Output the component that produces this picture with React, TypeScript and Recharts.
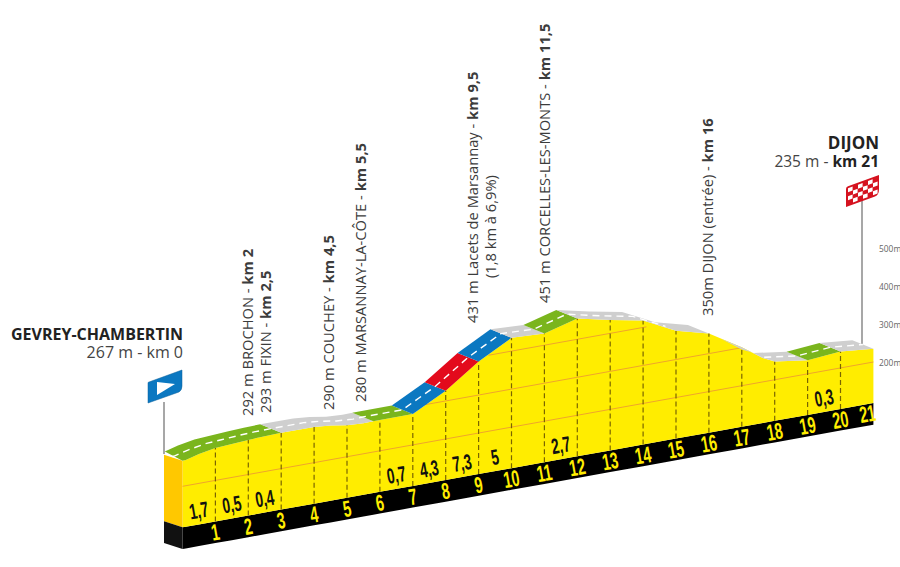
import React from "react";
import {
  ComposedChart,
  Area,
  Line,
  XAxis,
  YAxis,
  ReferenceLine,
  ReferenceDot,
} from "recharts";

// front edge of the road, km and altitude in metres
const profileKm = [0, 0.1, 0.5, 1, 1.5, 2, 2.5, 3, 4, 4.5, 5, 5.5, 5.8, 6, 7, 8, 9, 10, 11, 12, 13, 14, 15, 16, 17, 17.64, 18, 19, 20, 21];
const profileAlt = [267, 268, 277, 285, 288, 291, 293, 294, 294, 290, 283, 280, 281, 281, 281, 327, 388, 435, 431, 455, 435, 418, 376, 353, 301, 263, 248, 236, 243, 235];

const climbFrom = [0, 3, 5.8, 7, 8, 9, 10, 11, 12, 17, 19, 20];
const climbTo = [3, 5.8, 7, 8, 9, 10, 11, 12, 16, 19, 20, 21];
const climbColor = ["#7AB51D", "#CFCFCF", "#7AB51D", "#0B78C1", "#E30A1C", "#0B78C1", "#CFCFCF", "#7AB51D", "#CFCFCF", "#CFCFCF", "#7AB51D", "#CFCFCF"];

const contourLevels = [200, 300, 400];
const contourFrom = [0, 7.3, 9.3];
const contourTo = [21, 17, 14.1];

const kmMarks = [1, 2, 3, 4, 5, 6, 7, 8, 9, 10, 11, 12, 13, 14, 15, 16, 17, 18, 19, 20, 21];

const gradientKm = [0.5, 1.5, 2.5, 6.5, 7.5, 8.5, 9.5, 11.5, 19.5];
const gradientText = ["1,7", "0,5", "0,4", "0,7", "4,3", "7,3", "5", "2,7", "0,3"];

const passNames = [
  "292 m BROCHON",
  "293 m FIXIN",
  "290 m COUCHEY",
  "280 m MARSANNAY-LA-CÔTE",
  "431 m Lacets de Marsannay",
  "451 m CORCELLES-LES-MONTS",
  "350m DIJON (entrée)",
];
const passKm = ["km 2", "km 2,5", "km 4,5", "km 5,5", "km 9,5", "km 11,5", "km 16"];
const passX = [247, 265, 328, 360, 472, 544, 707];
const passBottom = [416, 413, 410, 402, 323, 303, 316];

const altTicks = [200, 300, 400, 500];

// the whole profile is drawn on a slope, altitude loses this many metres per km left of the finish
const TILT = 15.58;
const PX_PER_KM = 32.9;
const PX_PER_M = 0.38;
const kmAt = (px: number) => (px - 182.5) / PX_PER_KM;
const altAt = (py: number) => 200 + (362 - py) / PX_PER_M;
const tilted = (km: number, alt: number) => alt - TILT * (21 - km);

// road surface goes back and up from the front edge
const BACK_KM = 21 / PX_PER_KM;
const BACK_ALT = 8.5 / PX_PER_M;

const BASE_ALT = 92;
const BLACK_ALT = 35;

const FONT = "'Open Sans', sans-serif";

const bodyRows = profileKm.map((km, i) => ({
  km,
  band: [tilted(km, BLACK_ALT), tilted(km, BASE_ALT)],
  body: [tilted(km, BASE_ALT), tilted(km, profileAlt[i])],
}));

const altOf = (km: number) => profileAlt[profileKm.indexOf(km)];

const roadPolygon = (from: number, to: number) => {
  const kms = profileKm.filter((k) => k >= from && k <= to);
  const front = kms.map((km) => ({ km, y: tilted(km, altOf(km)) }));
  const back = kms
    .filter((km) => km !== 0)
    .reverse()
    .map((km) => ({ km: km - BACK_KM, y: tilted(km, altOf(km)) + BACK_ALT }));
  return [...front, ...back];
};

const centerRows = (from: number, to: number) =>
  profileKm
    .filter((k) => k >= from && k <= to)
    .map((km) => ({ km: km - BACK_KM / 2, y: tilted(km, altOf(km)) + BACK_ALT / 2 }));

const sideFace = [
  { km: 0, y: tilted(0, 267) },
  { km: 0, y: tilted(0, BASE_ALT) },
  { km: kmAt(164), y: tilted(0, BASE_ALT) + 16 },
  { km: kmAt(164), y: tilted(0, 267) + 16 },
];
const sideBlack = [
  { km: 0, y: tilted(0, BASE_ALT) },
  { km: 0, y: tilted(0, BLACK_ALT) },
  { km: kmAt(164), y: tilted(0, BLACK_ALT) + 16 },
  { km: kmAt(164), y: tilted(0, BASE_ALT) + 16 },
];

const joined = (points: any[]) => points.map((q: any) => `${q.x},${q.y}`).join(" ");

// Line series whose points are the corners of a filled shape
const polygonDot = (fill: string) => (p: any) =>
  p.index === 0 ? <polygon key={p.index} fill={fill} points={joined(p.points)} /> : <g key={p.index} />;

const rotatedNumber = (fill: string, size: number) => (p: any) => (
  <text
    key={p.index}
    x={0}
    y={0}
    fill={fill}
    fontFamily="'Liberation Sans', sans-serif"
    fontWeight={700}
    fontSize={size}
    textAnchor="middle"
    dominantBaseline="central"
    transform={`translate(${p.cx} ${p.cy}) rotate(-10) scale(0.72 1.15)`}
  >
    {p.payload.text}
  </text>
);

const kmRows = kmMarks.map((km) => ({
  km: km === 21 ? 20.82 : km,
  y: tilted(km, 63),
  text: String(km),
}));
const gradientRows = gradientKm.map((km, i) => ({
  km,
  y: tilted(km, 128),
  text: gradientText[i],
}));

const VerticalText = ({ cx, cy, children }: any) => (
  <text
    x={cx}
    y={cy}
    fill="#3C3C3C"
    fontFamily={FONT}
    fontSize={14.7}
    dominantBaseline="central"
    transform={`rotate(-90 ${cx} ${cy})`}
  >
    {children}
  </text>
);

const AltTick = ({ y, payload }: any) => (
  <text x={879} y={y} fill="#666" fontFamily={FONT} fontSize={8.4} dominantBaseline="central">
    {payload.value}m
  </text>
);

const StartFlag = ({ cx, cy }: any) => (
  <g transform={`translate(${cx} ${cy})`}>
    <path d="M0 21 V1 Q0 0 1 0 L34 -12 V4 Q34 8 31 10 Z" fill="#0B78C1" stroke="#0A5E98" strokeWidth={0.5} />
    <path d="M9 0 V13 L27 2 Z" fill="#fff" />
  </g>
);

const checkRows = [0, 1, 2, 3];
const checkCols = [0, 1, 2, 3, 4, 5];

const FinishFlag = ({ cx, cy }: any) => (
  <g transform={`translate(${cx} ${cy}) skewY(-20)`}>
    <path d="M0 20 V2 Q0 0 2 0 H33 V14 Q33 20 29 20 Z" fill="#D5121F" />
    {checkRows.map((r) =>
      checkCols
        .filter((c) => (r + c) % 2 === 0)
        .map((c) => (
          <rect key={`${r}-${c}`} x={2 + c * 5} y={2 + r * 4} width={4.6} height={4} fill="#fff" />
        )),
    )}
  </g>
);

const place = (cx: number, cy: number) => ({ x: kmAt(cx), y: altAt(cy) });

export default function App() {
  return (
    <div style={{ position: "absolute", left: 0, top: 0, width: 900, height: 567, background: "#fff" }}>
      <ComposedChart
        width={900}
        height={567}
        data={bodyRows}
        margin={{ top: 0, right: 0, bottom: 0, left: 0 }}
      >
        <XAxis
          dataKey="km"
          type="number"
          hide
          domain={[kmAt(0), kmAt(900)]}
          allowDataOverflow
        />
        <YAxis
          type="number"
          orientation="right"
          mirror
          width={1}
          domain={[altAt(567), altAt(0)]}
          ticks={altTicks}
          interval={0}
          tick={AltTick}
          axisLine={false}
          tickLine={false}
          allowDataOverflow
        />

        {climbFrom.map((from, i) => (
          <Line
            key={`road-${i}`}
            data={roadPolygon(from, climbTo[i])}
            dataKey="y"
            stroke="none"
            dot={polygonDot(climbColor[i])}
            activeDot={false}
            isAnimationActive={false}
            zIndex={50}
          />
        ))}

        <Area
          dataKey="band"
          type="linear"
          fill="#000"
          fillOpacity={1}
          stroke="none"
          dot={false}
          activeDot={false}
          isAnimationActive={false}
        />
        <Area
          dataKey="body"
          type="linear"
          fill="#FFED00"
          fillOpacity={1}
          stroke="none"
          dot={false}
          activeDot={false}
          isAnimationActive={false}
        />

        <Line data={sideFace} dataKey="y" stroke="none" dot={polygonDot("#FFC800")} activeDot={false} isAnimationActive={false} />
        <Line data={sideBlack} dataKey="y" stroke="none" dot={polygonDot("#111")} activeDot={false} isAnimationActive={false} />

        {contourLevels.map((level, i) => (
          <Line
            key={`contour-${level}`}
            data={[
              { km: contourFrom[i], y: tilted(contourFrom[i], level) },
              { km: contourTo[i], y: tilted(contourTo[i], level) },
            ]}
            dataKey="y"
            stroke="#EFA52C"
            strokeWidth={1}
            dot={false}
            activeDot={false}
            isAnimationActive={false}
          />
        ))}

        {kmMarks
          .filter((km) => km < 21)
          .map((km) => (
            <ReferenceLine
              key={`mark-${km}`}
              segment={[
                { x: km, y: tilted(km, BASE_ALT) },
                { x: km, y: tilted(km, altOf(km)) },
              ]}
              stroke="#7A6500"
              strokeWidth={1.2}
              strokeDasharray="5 3"
            />
          ))}

        <Line data={centerRows(0, 15)} dataKey="y" stroke="#fff" strokeWidth={1.4} strokeDasharray="7 5" dot={false} activeDot={false} isAnimationActive={false} zIndex={1000} />
        <Line data={centerRows(18, 21)} dataKey="y" stroke="#fff" strokeWidth={1.4} strokeDasharray="7 5" dot={false} activeDot={false} isAnimationActive={false} zIndex={1000} />

        <Line data={kmRows} dataKey="y" stroke="none" dot={rotatedNumber("#FFED00", 20)} activeDot={false} isAnimationActive={false} />
        <Line data={gradientRows} dataKey="y" stroke="none" dot={rotatedNumber("#111", 19)} activeDot={false} isAnimationActive={false} />

        <ReferenceLine
          segment={[
            { x: kmAt(164), y: altAt(402) },
            { x: kmAt(164), y: altAt(454) },
          ]}
          stroke="#8A8A8A"
          strokeWidth={1.5}
        />
        <ReferenceLine
          segment={[
            { x: kmAt(862), y: altAt(200) },
            { x: kmAt(862), y: altAt(345) },
          ]}
          stroke="#8A8A8A"
          strokeWidth={1.5}
        />
        <ReferenceDot {...place(148, 382)} r={0} shape={StartFlag} />
        <ReferenceDot {...place(846, 187)} r={0} shape={FinishFlag} />

        {passNames.map((name, i) => (
          <ReferenceDot
            key={name}
            {...place(passX[i], passBottom[i])}
            r={0}
            shape={(p: any) => (
              <VerticalText {...p}>
                {name} - <tspan fontWeight={700}>{passKm[i]}</tspan>
              </VerticalText>
            )}
          />
        ))}
        <ReferenceDot
          {...place(490, 278)}
          r={0}
          shape={(p: any) => <VerticalText {...p}>(1,8 km à 6,9%)</VerticalText>}
        />

        <ReferenceDot
          {...place(183, 334)}
          r={0}
          shape={(p: any) => (
            <text x={p.cx} y={p.cy} textAnchor="end" dominantBaseline="central" fontFamily={FONT} fontWeight={700} fontSize={16} fill="#222">
              GEVREY-CHAMBERTIN
            </text>
          )}
        />
        <ReferenceDot
          {...place(183, 352)}
          r={0}
          shape={(p: any) => (
            <text x={p.cx} y={p.cy} textAnchor="end" dominantBaseline="central" fontFamily={FONT} fontSize={16} fill="#444">
              267 m - km 0
            </text>
          )}
        />
        <ReferenceDot
          {...place(879, 142)}
          r={0}
          shape={(p: any) => (
            <text x={p.cx} y={p.cy} textAnchor="end" dominantBaseline="central" fontFamily={FONT} fontWeight={700} fontSize={17} fill="#222">
              DIJON
            </text>
          )}
        />
        <ReferenceDot
          {...place(879, 161)}
          r={0}
          shape={(p: any) => (
            <text x={p.cx} y={p.cy} textAnchor="end" dominantBaseline="central" fontFamily={FONT} fontSize={15.5} fill="#444">
              235 m - <tspan fontWeight={700} fill="#222">km 21</tspan>
            </text>
          )}
        />
      </ComposedChart>
    </div>
  );
}
